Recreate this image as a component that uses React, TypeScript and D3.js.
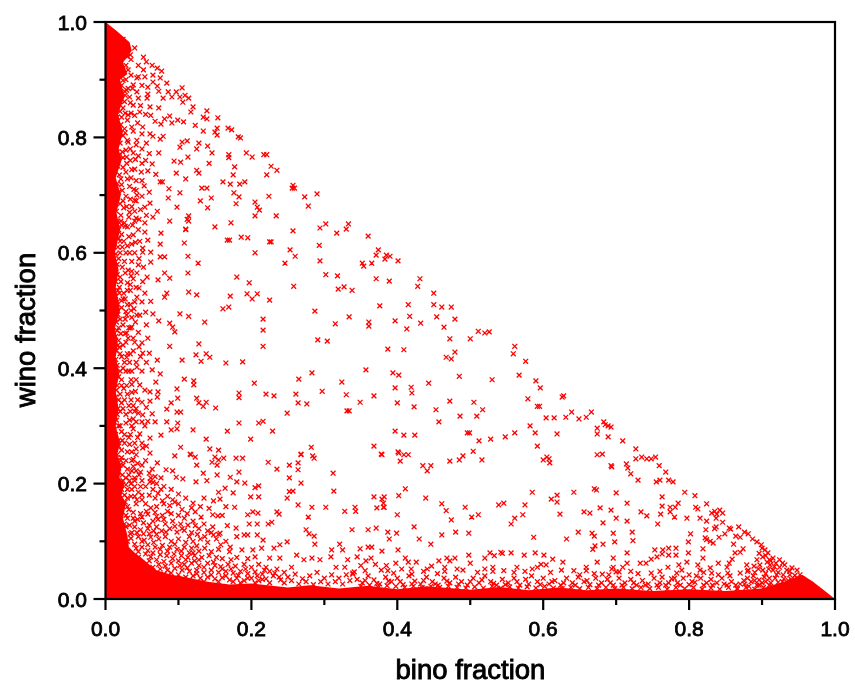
import React from "react";
import * as d3 from "d3";

const majorTicks = [0, 0.2, 0.4, 0.6, 0.8, 1.0];
const minorTicks = [0.1, 0.3, 0.5, 0.7, 0.9];
const xTitle = "bino fraction";
const yTitle = "wino fraction";

// outline of the part of the cloud that reads as solid red
const solidBino = [0,.015,.033,.036,.024,.03,.02,.026,.017,.024,.018,.022,.014,.021,.015,.02,.013,.018,.014,.02,.013,.017,.014,.019,.014,.018,.014,.02,.016,.022,.019,.026,.022,.028,.024,.03,.032,.04,.048,.06,.07,.08,.09,.105,.12,.14,.17,.2,.25,.28,.32,.36,.4,.44,.5,.54,.58,.62,.66,.7,.75,.8,.85,.9,.93,.955,.97,1,0];
const solidWino = [1,.985,.965,.95,.93,.91,.9,.87,.84,.81,.78,.76,.73,.7,.67,.64,.6,.57,.54,.5,.47,.44,.42,.39,.36,.33,.3,.27,.25,.23,.21,.2,.18,.166,.14,.11,.09,.08,.073,.06,.05,.046,.042,.039,.035,.03,.025,.027,.02,.024,.018,.023,.017,.022,.016,.021,.015,.02,.015,.018,.014,.017,.014,.018,.03,.042,.03,0,0];

const upperPoints: [number, number][] = [
[.182,.801],[.185,.799],[.168,.816],[.173,.813],[.154,.834],[.139,.846],[.153,.816],[.150,.809],[.153,.804],[.120,.853],[.117,.844],[.134,.835],[.139,.832],[.114,.868],[.109,.873],[.105,.886],[.097,.879],[.086,.879],[.084,.894],[.077,.915],[.071,.920],[.064,.925],[.052,.939],[.040,.955],[.034,.943],[.056,.931],[.045,.925],[.052,.917],[.054,.905],[.065,.908],[.075,.903],[.065,.896],[.071,.889],[.058,.887],[.043,.903],[.031,.917],[.038,.891],[.024,.899],[.029,.882],[.027,.873],[.043,.879],[.045,.868],[.057,.868],[.079,.868],[.073,.880],[.091,.870],[.102,.870],[.106,.861],[.061,.853],[.073,.851],[.047,.844],[.035,.842],[.024,.851],[.016,.865],[.031,.839],[.068,.828],[.088,.837],[.081,.832],[.091,.825],[.099,.830],[.107,.827],[.076,.823],[.051,.818],[.038,.811],[.027,.808],[.123,.821],[.134,.811],[.050,.806],[.061,.806],[.065,.802],[.079,.802],[.075,.797],[.043,.795],[.031,.792],[.105,.792],[.112,.794],[.102,.783],[.128,.790],[.125,.780],[.140,.785],[.146,.773],[.169,.770],[.169,.765],[.193,.773],[.113,.766],[.073,.773],[.038,.773],[.029,.766],[.094,.759],[.103,.757],[.142,.755],[.064,.754],[.050,.755],[.125,.743],[.128,.738],[.097,.738],[.069,.736],[.049,.740],[.177,.749],[.175,.735],[.184,.719],[.191,.723],[.161,.723],[.171,.719],[.110,.728],[.075,.723],[.078,.723],[.053,.716],[.035,.730],[.132,.712],[.139,.712],[.087,.711],[.183,.697],[.176,.704],[.102,.704],[.086,.695],[.145,.695],[.130,.690],[.179,.685],[.061,.686],[.040,.691],[.034,.693],[.098,.679],[.140,.678],[.071,.672],[.054,.679],[.040,.672],[.042,.660],[.046,.658],[.065,.662],[.114,.664],[.112,.658],[.088,.655],[.054,.652],[.110,.641],[.038,.631],[.054,.636],[.027,.646],
[.201,.766],[.217,.770],[.221,.770],[.227,.750],[.235,.743],[.221,.735],[.257,.717],[.256,.712],[.259,.712],[.273,.697],[.290,.702],[.278,.681],[.224,.698],[.205,.688],[.208,.679],[.211,.674],[.205,.664],[.234,.664],[.257,.638],[.294,.643],[.302,.650],[.333,.650],[.330,.641],[.317,.634],[.360,.629],[.225,.619],[.205,.600],[.253,.605],[.260,.594],[.246,.582],[.293,.613],[.294,.586],[.374,.605],[.371,.596],[.385,.596],[.383,.589],[.390,.594],[.401,.586],[.365,.582],[.352,.582],[.354,.577],[.302,.562],[.318,.560],[.371,.555],[.431,.555],[.258,.542],[.327,.541],[.319,.537],[.338,.535],
];

const middlePoints: [number, number][] = [
[.076,.634],[.110,.640],[.150,.645],[.172,.652],[.114,.655],[.167,.622],[.170,.622],[.186,.627],[.195,.626],[.227,.619],[.075,.615],[.108,.617],[.062,.601],[.051,.608],[.051,.601],[.075,.593],[.081,.593],[.113,.594],[.062,.584],[.127,.582],[.045,.579],[.113,.565],[.081,.565],[.088,.556],[.072,.553],[.057,.558],[.036,.568],[.043,.565],[.038,.555],[.180,.558],[.197,.548],[.114,.532],[.125,.527],[.171,.525],[.194,.529],[.201,.520],[.208,.529],[.225,.518],[.046,.539],[.043,.523],[.027,.520],[.084,.530],[.081,.523],[.062,.516],[.039,.503],[.161,.503],[.169,.506],[.102,.494],[.114,.490],[.055,.497],[.047,.492],[.029,.492],[.065,.494],[.073,.482],[.088,.478],[.092,.471],[.095,.463],[.136,.480],[.216,.485],[.216,.466],[.216,.438],[.287,.499],[.315,.477],[.334,.489],[.361,.480],[.361,.473],[.376,.508],[.291,.449],[.304,.447],[.036,.471],[.029,.461],[.050,.444],[.046,.437],[.088,.438],[.128,.442],[.124,.423],[.138,.425],[.131,.412],[.143,.419],[.105,.414],[.071,.414],[.165,.409],[.188,.411],[.060,.426],[.051,.426],[.029,.419],[.043,.402],[.064,.397],[.075,.390],[.265,.381],[.283,.392],[.324,.376],[.357,.397],[.108,.381],[.121,.378],[.121,.371],[.069,.376],[.047,.371],[.098,.364],[.204,.374],[.297,.360],[.330,.354],[.261,.355],[.220,.355],[.231,.352],[.183,.357],[.183,.349],[.368,.352],[.349,.341],[.276,.338],[.264,.340],[.331,.326],[.334,.326],[.249,.322],[.061,.359],[.072,.359],[.071,.350],[.061,.343],[.050,.341],[.099,.348],[.090,.340],[.125,.348],[.138,.341],[.128,.340],[.134,.334],[.151,.331],[.084,.329],[.098,.324],[.103,.324],[.064,.321],[.045,.322],[.051,.319],[.042,.307],[.050,.307],[.058,.308],[.068,.307],[.084,.307],[.099,.305],[.098,.295],[.090,.293],[.120,.293],[.167,.291],[.183,.305],[.210,.305],[.216,.308],[.229,.291],[.138,.277],[.199,.277],[.076,.284],[.047,.286],[.061,.279],[.103,.263],[.116,.251],[.123,.246],[.143,.260],[.155,.258],[.150,.246],[.162,.244],[.179,.244],[.188,.244],[.095,.248],[.051,.262],[.061,.253],[.282,.263],[.268,.251],[.284,.248],[.368,.265],[.378,.251],[.401,.255],
[.389,.551],[.428,.542],[.450,.530],[.415,.510],[.450,.510],[.461,.506],[.474,.506],[.417,.490],[.454,.489],[.397,.482],[.432,.478],[.479,.485],[.464,.471],[.413,.468],[.511,.464],[.520,.461],[.526,.463],[.472,.451],[.500,.451],[.561,.438],[.387,.433],[.409,.432],[.479,.428],[.467,.419],[.474,.416],[.559,.425],[.576,.412],[.394,.392],[.402,.388],[.485,.386],[.530,.380],[.567,.388],[.590,.378],[.596,.366],[.443,.374],[.397,.366],[.419,.367],[.420,.357],[.626,.350],[.628,.352],[.579,.347],[.400,.340],[.423,.333],[.453,.328],[.472,.343],[.505,.341],[.517,.328],[.486,.317],[.509,.317],[.592,.334],[.595,.334],[.604,.314],[.615,.314],[.631,.315],[.639,.324],[.649,.312],[.659,.315],[.666,.324],[.457,.307],[.683,.307],[.674,.296],[.689,.300],[.685,.302],[.693,.298],[.674,.286],[.689,.281],[.582,.300],[.397,.291],[.409,.284],[.424,.284],[.496,.288],[.499,.288],[.561,.288],[.548,.281],[.528,.277],[.512,.274],[.589,.288],[.619,.286],[.709,.274],[.592,.265],[.727,.260],[.504,.256],[.402,.253],[.409,.250],[.415,.250],[.379,.250],[.404,.239],[.490,.248],[.485,.241],[.472,.239],[.516,.241],[.600,.241],[.605,.246],[.608,.243],[.609,.236],[.674,.250],[.681,.251],[.727,.243],[.735,.246],[.742,.243],[.748,.243],[.754,.246],[.759,.231],[.693,.231],[.714,.234],[.716,.227],[.720,.217],[.730,.206],[.768,.220],[.435,.231],[.446,.231],[.441,.222],[.755,.203],[.760,.206],[.772,.206],[.778,.203],[.694,.229],
];

const lowerPoints: [number, number][] = [
[.411,.191],[.402,.179],[.439,.175],[.382,.177],[.379,.173],[.382,.159],[.585,.185],[.619,.180],[.611,.173],[.619,.168],[.642,.185],[.670,.191],[.673,.189],[.700,.184],[.715,.166],[.763,.177],[.763,.161],[.774,.159],[.781,.159],[.785,.166],[.461,.165],[.467,.153],[.493,.159],[.539,.163],[.546,.166],[.575,.163],[.572,.146],[.511,.146],[.502,.142],[.561,.140],[.400,.146],[.623,.147],[.656,.151],[.664,.149],[.678,.158],[.693,.154],[.734,.151],[.742,.144],[.761,.147],[.774,.151],[.780,.142],
[.117,.250],[.134,.218],[.125,.232],[.146,.237],[.153,.232],[.155,.241],[.153,.215],[.183,.220],[.171,.211],[.180,.203],[.191,.201],[.223,.237],[.235,.225],[.252,.232],[.264,.236],[.264,.224],[.268,.250],[.286,.244],[.312,.218],[.313,.187],[.252,.210],[.268,.201],[.139,.205],[.124,.203],[.106,.208],[.097,.211],[.092,.222],[.083,.224],[.071,.236],[.060,.218],[.061,.203],[.065,.202],[.210,.196],[.205,.193],[.199,.177],[.210,.177],[.175,.184],[.164,.192],[.155,.185],[.157,.173],[.257,.187],[.252,.186],[.249,.175],[.264,.163],[.283,.159],[.302,.159],[.342,.159],[.343,.152],[.235,.151],[.238,.147],[.278,.142],[.177,.159],[.120,.166],[.123,.151],[.131,.142],[.147,.146],[.154,.144],[.195,.146],[.202,.151],[.209,.149],[.197,.130],[.208,.130],[.123,.127],[.147,.125],[.167,.127],[.179,.123],[.223,.130],[.228,.133],[.275,.120],[.279,.113],[.286,.109],[.338,.120],[.157,.114],[.148,.111],[.190,.111],[.195,.111],[.208,.111],[.216,.102],[.249,.099],[.239,.094],[.231,.088],[.287,.095],[.321,.095],[.325,.085],[.310,.085],[.158,.094],[.171,.090],[.187,.085],[.202,.085],[.214,.088],[.262,.076],[.205,.073],[.120,.080],[.225,.071],[.239,.071],[.272,.068],[.283,.071],[.294,.068],[.309,.073],[.332,.068],[.345,.073],[.316,.055],[.328,.055],[.339,.043],
[.368,.177],[.381,.166],[.381,.159],[.372,.158],[.328,.152],[.474,.137],[.556,.130],[.682,.132],[.700,.140],[.360,.120],[.371,.123],[.387,.116],[.389,.104],[.399,.114],[.423,.125],[.430,.104],[.446,.095],[.461,.111],[.480,.116],[.498,.114],[.587,.107],[.632,.104],[.648,.116],[.667,.114],[.670,.109],[.696,.114],[.698,.099],[.682,.095],[.671,.092],[.668,.086],[.379,.083],[.401,.085],[.349,.087],[.360,.090],[.365,.090],[.357,.066],[.364,.071],[.411,.071],[.415,.064],[.426,.064],[.398,.062],[.457,.066],[.468,.071],[.472,.066],[.479,.071],[.498,.076],[.500,.062],[.520,.071],[.527,.080],[.533,.075],[.542,.081],[.544,.079],[.556,.080],[.574,.076],[.589,.080],[.601,.076],[.613,.069],[.627,.064],[.674,.064],[.696,.071],[.564,.055],[.604,.059],[.597,.060],[.592,.055],[.531,.055],[.531,.048],[.546,.049],[.482,.052],[.465,.055],[.465,.048],[.447,.057],[.441,.052],[.419,.052],[.406,.052],[.387,.049],[.378,.050],[.356,.049],[.339,.045],[.341,.047],[.642,.049],[.659,.055],[.659,.049],[.681,.043],[.704,.047],[.694,.052],
[.794,.185],[.808,.179],[.809,.159],[.812,.156],[.824,.165],[.715,.135],[.757,.130],[.797,.140],[.815,.140],[.824,.135],[.835,.152],[.842,.154],[.831,.149],[.846,.149],[.838,.147],[.837,.140],[.846,.133],[.837,.125],[.835,.122],[.823,.120],[.857,.121],[.855,.123],[.868,.125],[.876,.116],[.881,.113],[.887,.104],[.893,.099],[.864,.109],[.870,.107],[.849,.113],[.841,.107],[.802,.113],[.799,.099],[.822,.106],[.824,.103],[.833,.097],[.829,.100],[.819,.087],[.722,.116],[.723,.101],[.861,.095],[.874,.087],[.870,.081],[.863,.080],[.859,.069],[.855,.062],[.852,.055],[.853,.045],[.856,.040],[.840,.062],[.840,.042],[.829,.054],[.831,.045],[.819,.071],[.812,.059],[.815,.050],[.799,.080],[.797,.064],[.786,.059],[.790,.050],[.783,.045],[.772,.088],[.782,.088],[.772,.076],[.782,.076],[.764,.085],[.753,.085],[.756,.073],[.763,.078],[.748,.069],[.741,.062],[.733,.062],[.715,.080],[.715,.062],[.709,.055],[.696,.055],[.700,.047],[.748,.045],[.771,.055],[.763,.038],[.808,.029],
[.879,.059],[.889,.057],[.881,.050],[.901,.073],[.904,.085],[.900,.088],[.908,.080],[.915,.071],[.924,.068],[.907,.064],[.911,.059],[.897,.059],[.901,.050],[.915,.050],[.924,.055],[.931,.059],[.941,.054],[.948,.050],[.952,.042],[.938,.042],[.929,.042],[.922,.029],[.936,.032],[.944,.026],[.952,.026],[.915,.020],[.926,.022],[.905,.030],[.893,.024],[.882,.022],[.866,.018],[.899,.094],[.896,.079],[.893,.068],[.910,.068],[.919,.062],[.934,.050],[.945,.041],[.905,.044],[.918,.036],[.930,.035],[.910,.036],[.888,.040],[.875,.032],
[.905,.075],[.912,.066],[.917,.056],[.928,.062],[.938,.048],[.922,.046],[.909,.052],[.895,.052],[.903,.038],[.896,.033],[.912,.028],[.928,.03],[.94,.034],[.948,.036],[.955,.035],[.958,.03],[.96,.022],[.934,.022],[.945,.018],[.92,.042],[.885,.03],
];

const leftFringe: [number, number][] = [
[.03,.953],[.024,.945],[.035,.935],[.028,.925],[.021,.912],[.035,.908],[.022,.89],[.031,.885],[.019,.875],[.026,.862],[.038,.856],[.02,.845],[.03,.83],[.021,.822],[.036,.818],[.024,.803],[.042,.787],[.02,.79],[.028,.778],[.019,.768],[.034,.76],[.024,.748],[.04,.745],[.019,.735],[.03,.728],[.022,.718],[.042,.708],[.018,.705],[.028,.698],[.02,.685],[.033,.67],[.021,.665],[.026,.652],[.018,.64],[.032,.628],[.02,.62],[.041,.618],[.017,.61],[.028,.6],[.018,.59],[.036,.585],[.023,.575],[.016,.562],[.03,.548],[.019,.54],[.025,.53],[.034,.51],[.016,.515],[.022,.505],[.017,.493],[.036,.488],[.015,.48],[.024,.475],[.016,.465],[.031,.452],[.018,.448],[.024,.44],[.038,.43],[.015,.43],[.022,.42],[.033,.41],[.016,.405],[.028,.395],[.018,.385],[.035,.38],[.022,.37],[.015,.362],[.03,.355],[.018,.345],[.038,.335],[.024,.33],[.016,.32],[.033,.31],[.02,.3],[.038,.295],[.026,.285],[.018,.275],[.033,.268],[.022,.258],[.042,.25],[.028,.24],[.02,.232],[.036,.222],[.046,.215],[.028,.21],[.04,.195],[.03,.19],[.05,.18],[.035,.178],[.027,.168],
[.018,.95],[.02,.93],[.016,.905],[.028,.9],[.018,.86],[.033,.87],[.016,.835],[.027,.842],[.017,.8],[.03,.795],[.016,.775],[.024,.765],[.017,.75],[.028,.74],[.016,.72],[.023,.708],[.016,.695],[.025,.678],[.015,.672],[.022,.648],[.016,.65],[.022,.632],[.014,.628],[.023,.61],[.014,.598],[.027,.565],[.014,.55],[.02,.558],[.014,.525],[.022,.517],[.028,.498],[.014,.5],[.02,.485],[.027,.46],[.014,.455],[.019,.436],[.026,.41],[.014,.415],[.02,.395],[.014,.385],[.025,.365],[.014,.35],[.022,.34],[.028,.32],[.015,.31],[.022,.29],[.014,.285],[.026,.27],[.016,.25],[.022,.245],[.03,.225],[.018,.22],[.024,.205],[.028,.198],[.033,.205],[.026,.18],
[.045,.905],[.05,.89],[.048,.855],[.055,.84],[.044,.825],[.05,.78],[.045,.768],[.055,.76],[.036,.744],[.05,.725],[.043,.7],[.05,.698],[.036,.68],[.048,.675],[.032,.662],[.037,.648],[.045,.64],[.047,.62],[.03,.612],[.04,.6],[.046,.59],[.035,.56],[.051,.55],[.042,.54],[.03,.535],[.05,.515],[.035,.5],[.041,.48],[.045,.462],[.038,.452],[.048,.42],[.036,.395],[.05,.395],[.042,.38],[.036,.358],[.044,.345],[.04,.325],[.038,.312],[.044,.28],[.032,.28],[.05,.27],[.042,.26],[.038,.242],[.05,.232],[.055,.24],
[.024,.97],[.03,.94],[.022,.92],[.026,.88],[.034,.86],[.022,.835],[.026,.815],[.034,.78],[.023,.775],[.029,.755],[.021,.728],[.033,.715],[.024,.69],[.029,.68],[.021,.655],[.03,.645],[.025,.62],[.033,.6],[.02,.6],[.026,.585],[.031,.57],[.021,.55],[.034,.535],[.024,.52],[.019,.53],[.03,.51],[.027,.485],[.032,.47],[.021,.46],[.028,.445],[.02,.425],[.03,.425],[.024,.4],[.032,.395],[.022,.38],[.029,.37],[.02,.355],[.026,.345],[.032,.335],[.02,.325],[.028,.305],[.034,.285],[.023,.275],[.03,.255],[.036,.24],[.024,.232],[.032,.215],[.04,.205],[.036,.19],[.022,.19],[.03,.175],[.043,.172],[.032,.155],[.038,.14],[.028,.145],[.033,.128],[.026,.13],[.036,.115],
[.017,.655],[.018,.625],[.016,.58],[.017,.535],[.018,.47],[.017,.44],[.016,.37],[.017,.33],[.018,.3],[.018,.265],[.021,.24],[.023,.215],
[.058,.875],[.062,.838],[.056,.79],[.06,.772],[.058,.742],[.06,.705],[.056,.665],[.058,.622],[.052,.575],[.054,.53],[.056,.475],[.058,.452],[.056,.41],[.054,.362],[.056,.332],[.054,.3],[.056,.265],[.064,.225],[.068,.212],[.076,.21],
[.037,.885],[.04,.838],[.041,.762],[.042,.725],[.039,.71],[.042,.69],[.04,.655],[.036,.615],[.034,.545],[.04,.515],[.043,.492],[.034,.47],[.04,.445],[.034,.425],[.042,.41],[.036,.372],[.041,.36],[.035,.345],[.034,.325],[.042,.33],[.036,.3],[.04,.27],[.036,.255],[.044,.235],[.042,.222],
];

const cornerPoints: [number, number][] = [
[.04,.21],[.05,.205],[.035,.2],[.055,.195],[.07,.2],[.08,.195],[.09,.19],[.045,.185],[.06,.18],[.072,.183],[.085,.178],[.1,.182],[.11,.175],[.03,.16],[.042,.165],[.055,.165],[.062,.158],[.07,.16],[.08,.165],[.088,.162],[.095,.168],[.105,.155],[.112,.148],[.118,.158],[.13,.16],[.135,.175],[.142,.157],[.148,.17],[.038,.15],[.048,.148],[.058,.147],[.068,.15],[.078,.145],[.09,.148],[.1,.145],[.108,.14],[.03,.14],[.044,.138],[.052,.132],[.065,.135],[.072,.138],[.082,.13],[.092,.135],[.103,.13],[.113,.128],[.135,.13],[.16,.145],[.165,.16],[.028,.125],[.04,.125],[.048,.12],[.058,.122],[.066,.118],[.077,.118],[.088,.122],[.098,.116],[.108,.119],[.118,.115],[.126,.112],[.136,.108],[.145,.115],[.034,.113],[.045,.108],[.053,.102],[.062,.107],[.073,.104],[.082,.108],[.09,.1],[.1,.104],[.11,.098],[.12,.1],[.13,.104],[.14,.098],[.152,.104],[.165,.1],[.18,.108],[.03,.1],[.04,.095],[.05,.09],[.058,.094],[.068,.09],[.078,.093],[.088,.09],[.098,.086],[.108,.09],[.118,.088],[.128,.083],[.136,.088],[.145,.082],[.155,.086],[.17,.082],[.045,.082],[.055,.078],[.065,.08],[.075,.077],[.084,.075],[.094,.078],[.104,.075],[.113,.072],[.122,.075],[.132,.072],[.142,.075],[.152,.072],[.16,.07],[.172,.068],[.18,.072],[.195,.07],[.045,.072],[.06,.066],[.07,.068],[.08,.065],[.09,.062],[.1,.066],[.108,.06],[.118,.062],[.128,.058],[.14,.062],[.15,.058],[.158,.056],[.168,.06],[.178,.057],[.19,.06],[.2,.055],[.21,.06],[.22,.055],[.05,.06],[.065,.055],[.075,.052],[.085,.05],[.095,.053],[.105,.05],[.115,.048],[.125,.05],[.135,.046],[.145,.05],[.155,.046],[.165,.048],[.175,.045],[.185,.048],[.195,.044],[.205,.047],[.215,.043],[.225,.048],[.235,.052],[.245,.046],[.255,.055],[.07,.044],[.085,.04],[.1,.042],[.11,.038],[.12,.04],[.13,.036],[.14,.038],[.15,.035],[.16,.037],[.17,.033],[.18,.036],[.19,.032],[.2,.036],[.21,.032],[.22,.035],[.23,.04],[.24,.033],[.25,.038],[.26,.043],[.27,.035],[.28,.04],[.29,.046],[.3,.036],[.31,.042],[.32,.036],[.33,.042],
[.035,.105],[.043,.115],[.052,.113],[.06,.113],[.07,.112],[.083,.116],[.042,.088],[.05,.1],[.058,.084],[.066,.098],[.075,.086],[.085,.083],[.095,.095],[.104,.083],[.115,.08],[.125,.092],[.04,.135],[.05,.142],[.06,.128],[.07,.125],[.08,.138],[.095,.126],[.105,.122],[.062,.073],[.073,.06],[.082,.057],[.092,.07],[.102,.058],[.112,.054],[.122,.066],[.135,.055],[.148,.064],[.16,.052],[.172,.052],[.182,.041],[.192,.052],[.208,.04],[.218,.05],[.232,.045],[.06,.05],[.08,.043],[.09,.045],[.1,.035],[.115,.032],[.125,.044],[.135,.03],[.145,.042],[.155,.03],[.165,.04],[.175,.03],[.185,.028],[.195,.036],[.205,.028],[.215,.034],[.225,.028],[.238,.038],[.245,.028],[.255,.032],[.265,.026],[.275,.03],[.285,.025],[.295,.03],[.305,.026],[.315,.03],[.325,.026],[.335,.032],[.068,.175],[.078,.17],[.092,.172],[.05,.172],[.04,.178],[.056,.152],[.085,.152],[.1,.165],[.065,.19],[.076,.19],[.048,.195],[.062,.21],[.048,.22],[.038,.23],[.07,.143],[.12,.135],[.128,.122],[.115,.108],[.14,.118],[.155,.112],[.11,.068],[.128,.068],
];

const bottomFringe: [number, number][] = [
[.345,.034],[.352,.028],[.36,.04],[.368,.033],[.376,.026],[.384,.038],[.392,.03],[.4,.036],[.408,.025],[.416,.04],[.424,.031],[.432,.026],[.44,.038],[.448,.03],[.456,.024],[.464,.036],[.472,.028],[.48,.038],[.488,.03],[.496,.024],[.504,.036],[.512,.028],[.52,.04],[.528,.03],[.536,.024],[.544,.034],[.552,.028],[.56,.036],[.568,.024],[.576,.034],[.584,.04],[.592,.03],[.6,.036],[.608,.026],[.616,.032],[.624,.024],[.632,.036],[.64,.028],[.648,.038],[.656,.03],[.664,.025],[.672,.036],[.68,.028],[.688,.034],[.696,.024],[.704,.036],[.712,.028],[.72,.034],[.728,.024],[.736,.032],[.744,.026],[.752,.036],[.76,.028],[.768,.024],[.776,.035],[.784,.028],[.792,.036],[.8,.025],[.816,.036],[.824,.028],[.832,.024],[.848,.026],[.858,.03],[.87,.026],[.88,.036],[.89,.032],[.9,.028],[.91,.024],
[.35,.022],[.362,.024],[.374,.02],[.386,.023],[.398,.022],[.41,.02],[.422,.022],[.434,.02],[.446,.022],[.458,.02],[.47,.022],[.482,.02],[.494,.019],[.506,.021],[.518,.019],[.53,.022],[.542,.019],[.554,.021],[.566,.019],[.578,.021],[.59,.019],[.602,.022],[.614,.019],[.626,.018],[.638,.02],[.65,.018],[.662,.02],[.674,.018],[.686,.02],[.698,.018],[.71,.02],[.722,.018],[.734,.02],[.746,.018],[.758,.02],[.77,.017],[.782,.02],[.794,.018],[.806,.02],[.818,.017],[.83,.019],[.842,.017],[.854,.02],[.866,.017],[.878,.02],[.89,.017],[.902,.02],[.914,.017],[.926,.016],[.938,.018],
[.35,.058],[.37,.06],[.385,.058],[.395,.045],[.42,.043],[.436,.048],[.455,.044],[.49,.05],[.51,.046],[.52,.052],[.56,.046],[.575,.048],[.585,.052],[.61,.046],[.625,.05],[.65,.042],[.67,.044],[.69,.042],[.72,.048],[.73,.044],[.76,.048],[.78,.036],[.8,.042],[.81,.04],[.82,.046],[.83,.034],[.845,.036],[.87,.045],[.88,.048],[.89,.046],
[.356,.032],[.372,.027],[.388,.031],[.404,.03],[.42,.026],[.436,.032],[.452,.026],[.468,.031],[.484,.026],[.5,.03],[.516,.033],[.532,.027],[.548,.025],[.564,.03],[.58,.026],[.596,.025],[.612,.03],[.628,.028],[.644,.024],[.66,.032],[.676,.024],[.692,.028],[.708,.024],[.724,.028],[.74,.024],[.756,.024],[.772,.028],[.788,.024],[.804,.03],[.82,.024],[.838,.028],[.852,.024],[.864,.024],[.876,.026],[.896,.024],
];

const W = 855;
const H = 686;
const x = d3.scaleLinear().domain([0, 1]).range([105.5, 835]);
const y = d3.scaleLinear().domain([0, 1]).range([599, 22]);

const allPoints = [...upperPoints, ...middlePoints, ...lowerPoints, ...leftFringe, ...cornerPoints, ...bottomFringe];
const solidPath = d3.line<number>().x((b) => x(b)).y((_, i) => y(solidWino[i]))(solidBino) ?? "";
const r = 2.4;

export default function App() {
  return (
    <svg width={W} height={H} viewBox={`0 0 ${W} ${H}`} style={{ position: "absolute", left: 0, top: 0, background: "#fff" }}>
      <defs>
        <filter id="soft" x="-2%" y="-2%" width="104%" height="104%">
          <feGaussianBlur stdDeviation="0.35" />
        </filter>
      </defs>
      <g filter="url(#soft)">
        <path d={solidPath} fill="#ff0000" />
        <g stroke="#ff0000" strokeWidth={1.3} fill="none">
          {allPoints.map(([b, w], i) => (
            <path key={i} d={`M${x(b) - r},${y(w) - r}L${x(b) + r},${y(w) + r}M${x(b) - r},${y(w) + r}L${x(b) + r},${y(w) - r}`} />
          ))}
        </g>
        <rect x={x(0)} y={y(1)} width={x(1) - x(0)} height={y(0) - y(1)} fill="none" stroke="#000" strokeWidth={2.2} />
        <g stroke="#000" strokeWidth={2.2}>
          {majorTicks.map((t) => <line key={t} x1={x(t)} x2={x(t)} y1={y(0)} y2={y(0) + 11} />)}
          {minorTicks.map((t) => <line key={t} x1={x(t)} x2={x(t)} y1={y(0)} y2={y(0) + 6} />)}
          {majorTicks.map((t) => <line key={t} x1={x(0) - 12} x2={x(0)} y1={y(t)} y2={y(t)} />)}
          {minorTicks.map((t) => <line key={t} x1={x(0) - 6} x2={x(0)} y1={y(t)} y2={y(t)} />)}
        </g>
        <g fontFamily="'Liberation Sans', Arial, sans-serif" fontSize={21} fill="#000" stroke="#000" strokeWidth={0.8}>
          {majorTicks.map((t) => <text key={t} x={x(t)} y={636} textAnchor="middle">{t.toFixed(1)}</text>)}
          {majorTicks.map((t) => <text key={t} x={87} y={y(t) + 7.5} textAnchor="end">{t.toFixed(1)}</text>)}
        </g>
        <g fontFamily="'Liberation Sans', Arial, sans-serif" fontSize={27.5} fill="#000" stroke="#000" strokeWidth={0.9}>
          <text x={470.5} y={679} textAnchor="middle">{xTitle}</text>
          <text transform="translate(35,330) rotate(-90)" textAnchor="middle">{yTitle}</text>
        </g>
      </g>
    </svg>
  );
}
